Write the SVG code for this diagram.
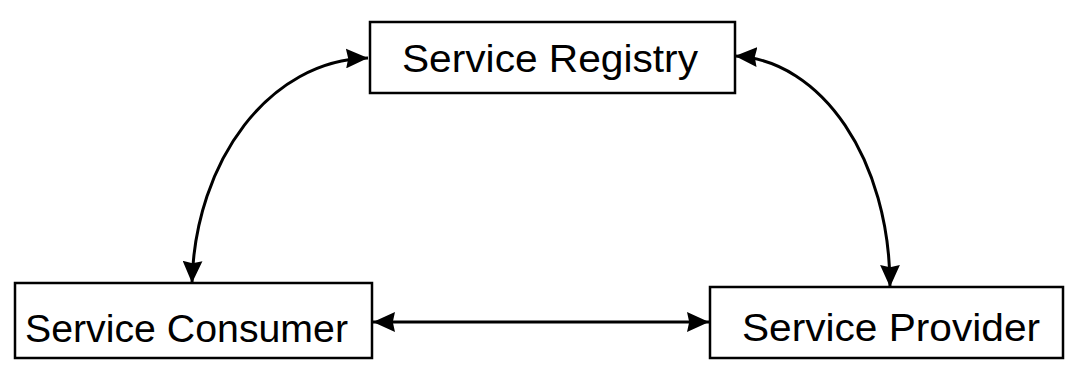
<svg xmlns="http://www.w3.org/2000/svg" width="1067" height="365" viewBox="0 0 1067 365">
<style>
.box{fill:#fff;stroke:#000;stroke-width:2.5}
.lbl{font-family:"Liberation Sans",Arial,sans-serif;font-size:38px;fill:#000}
.conn{fill:none;stroke:#000;stroke-width:3}
</style>
<defs>
<marker id="ah" viewBox="0 0 20 18" refX="20" refY="9" markerWidth="22" markerHeight="20" orient="auto-start-reverse" markerUnits="userSpaceOnUse">
<path d="M0,0 L20,9 L0,18 L2,9 Z" fill="#000"/>
</marker>
</defs>
<rect width="1067" height="365" fill="#fff"/>
<g id="connectors">
<path class="conn" d="M192,283 C195,160 270,60 368,58" marker-start="url(#ah)" marker-end="url(#ah)"/>
<path class="conn" d="M735,56 C822,60 890,160 890,287" marker-start="url(#ah)" marker-end="url(#ah)"/>
<path class="conn" d="M373,322 L709,322" marker-start="url(#ah)" marker-end="url(#ah)"/>
</g>
<g id="registry">
<rect class="box" x="370" y="22" width="365" height="71"/>
<text class="lbl" x="402" y="72" textLength="296" lengthAdjust="spacingAndGlyphs">Service Registry</text>
</g>
<g id="consumer">
<rect class="box" x="15" y="283" width="357" height="75"/>
<text class="lbl" x="25" y="342" textLength="323" lengthAdjust="spacingAndGlyphs">Service Consumer</text>
</g>
<g id="provider">
<rect class="box" x="710" y="287" width="353" height="71"/>
<text class="lbl" x="742" y="341" textLength="298" lengthAdjust="spacingAndGlyphs">Service Provider</text>
</g>
</svg>
